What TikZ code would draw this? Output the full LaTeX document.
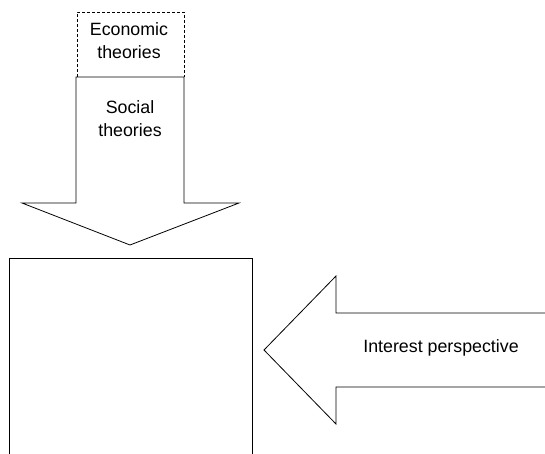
\documentclass[tikz,border=0pt]{standalone}
\usepackage{fontspec}
\setmainfont{Liberation Sans}
\begin{document}
\begin{tikzpicture}[x=1pt,y=-1pt,
  outline/.style={draw=black,line width=0.8pt,line join=miter},
  dashedbox/.style={draw=black,line width=0.8pt,dash pattern=on 3pt off 2pt},
  label/.style={font=\fontsize{17.8}{23}\selectfont,align=center,inner sep=0pt}]
  \useasboundingbox (0,0) rectangle (545,454);
  % dashed box on top of the downward arrow
  \draw[dashedbox] (77,77) -- (77,12) -- (184,12) -- (184,77);
  % downward block arrow
  \draw[outline] (76,77) -- (184,77) -- (184,203) -- (239,203) -- (130,245)
    -- (22,203) -- (76,203) -- cycle;
  % open-bottom box
  \draw[outline] (9,460) -- (9,258) -- (252,258) -- (252,460);
  % leftward block arrow, shaft running off the right edge
  \draw[outline] (550,313) -- (336,313) -- (336,276) -- (264,350) -- (336,424)
    -- (336,387) -- (550,387);
  \node[label] (econ) at (129,41) {Economic\\theories};
  \node[label] (social) at (130,119) {Social\\theories};
  \node[label] (interest) at (441,348) {Interest perspective};
\end{tikzpicture}
\end{document}
